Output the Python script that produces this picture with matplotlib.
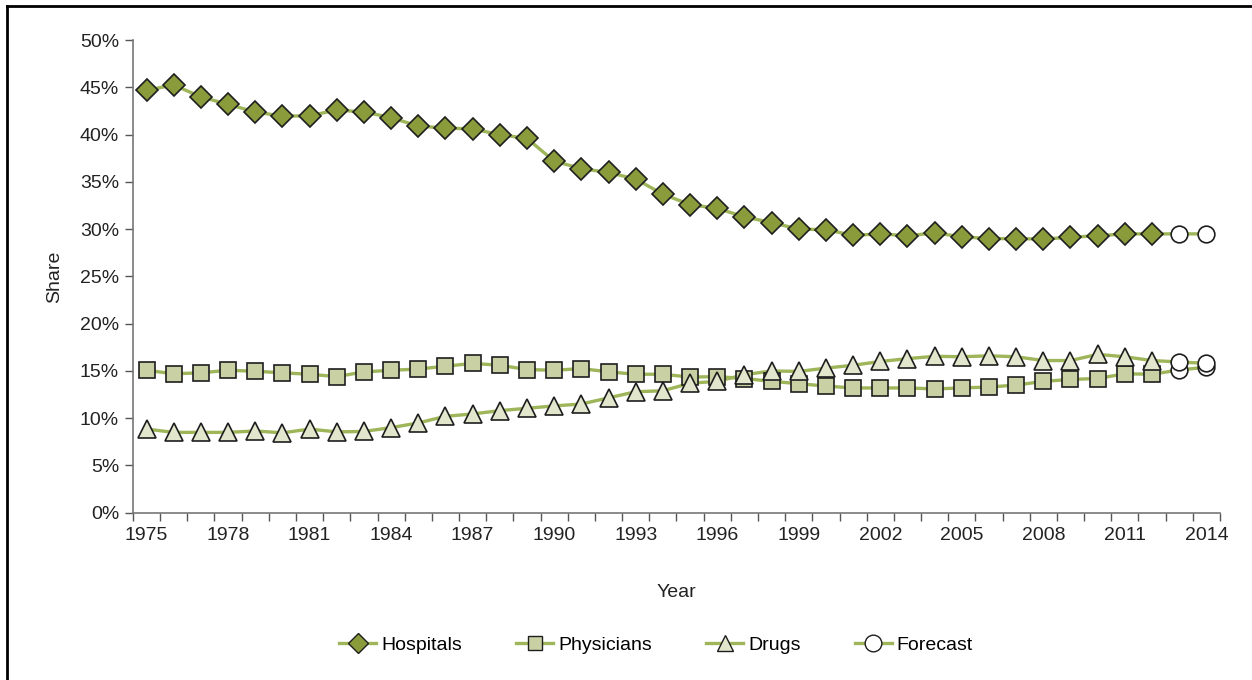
import matplotlib.pyplot as plt
from matplotlib.lines import Line2D
from matplotlib.ticker import FuncFormatter, MultipleLocator

plt.rcParams['font.family'] = ['Liberation Sans', 'DejaVu Sans']
fs = 14

# Data (share of spending, %)
years = list(range(1975, 2015))
hospitals = [44.7, 45.25, 44.0, 43.2, 42.4, 41.95, 42.0, 42.6, 42.4, 41.8,
             40.9, 40.7, 40.6, 40.0, 39.6, 37.2, 36.4, 36.0, 35.3, 33.7,
             32.6, 32.2, 31.3, 30.7, 30.0, 29.95, 29.35, 29.5, 29.3, 29.6,
             29.2, 29.0, 29.0, 28.95, 29.15, 29.3, 29.5, 29.5, 29.5, 29.5]
physicians = [15.07, 14.7, 14.8, 15.07, 14.97, 14.8, 14.65, 14.4, 14.9, 15.07,
              15.2, 15.5, 15.8, 15.6, 15.15, 15.07, 15.25, 14.9, 14.65, 14.65,
              14.35, 14.4, 14.2, 13.9, 13.65, 13.4, 13.2, 13.2, 13.2, 13.1,
              13.2, 13.3, 13.5, 13.9, 14.1, 14.2, 14.7, 14.65, 15.1, 15.4]
drugs = [8.85, 8.5, 8.5, 8.5, 8.65, 8.45, 8.85, 8.55, 8.6, 9.0,
         9.5, 10.2, 10.45, 10.8, 11.05, 11.3, 11.5, 12.15, 12.8, 12.9,
         13.7, 13.9, 14.6, 15.0, 14.95, 15.3, 15.6, 16.0, 16.3, 16.55,
         16.5, 16.6, 16.5, 16.1, 16.1, 16.75, 16.5, 16.1, 15.95, 15.8]
n_forecast = 2  # last two years are forecasts

line_color = '#9EB55A'
edge = '#1E1E1E'

fig = plt.figure(figsize=(12.52, 6.8), dpi=100)
ax = fig.add_axes([0.1062, 0.246, 0.8682, 0.695])

n_act = len(years) - n_forecast
series = [
    (hospitals, 'D', '#8A9B3C', 11, 'Hospitals'),
    (physicians, 's', '#C9D0A3', 11, 'Physicians'),
    (drugs, '^', '#E2E6CC', 13, 'Drugs'),
]
for vals, mk, fc, ms, name in series:
    v = [x / 100 for x in vals]
    ax.plot(years, v, color=line_color, lw=2.4, zorder=2)
    ax.plot(years[:n_act], v[:n_act], ls='none', marker=mk, ms=ms,
            mfc=fc, mec=edge, mew=1.2, zorder=3)
    ax.plot(years[n_act:], v[n_act:], ls='none', marker='o', ms=12,
            mfc='white', mec=edge, mew=1.2, zorder=3)

ax.set_xlim(1974.5, 2014.5)
ax.set_ylim(0, 0.5)
ax.yaxis.set_major_locator(MultipleLocator(0.05))
ax.yaxis.set_major_formatter(FuncFormatter(lambda y, _: f'{y * 100:.0f}%'))
ax.set_xticks(years[::3])
ax.set_xticks([y - 0.5 for y in years] + [2014.5], minor=True)
ax.tick_params(axis='x', which='major', length=0, pad=10, labelsize=fs, colors='#222222')
ax.tick_params(axis='x', which='minor', length=6, width=1, color='#555555')
ax.tick_params(axis='y', length=6, width=1, color='#555555', labelsize=fs,
               labelcolor='#222222', pad=4)
for s in ['top', 'right']:
    ax.spines[s].set_visible(False)
for s in ['left', 'bottom']:
    ax.spines[s].set_color('#777777')
    ax.spines[s].set_linewidth(1.2)

ax.set_xlabel('Year', fontsize=fs, labelpad=29, color='#222222')
ax.set_ylabel('Share', fontsize=fs, labelpad=12, color='#222222')

handles = [
    Line2D([], [], color=line_color, lw=2.4, marker='D', ms=10, mfc='#8A9B3C', mec=edge),
    Line2D([], [], color=line_color, lw=2.4, marker='s', ms=10, mfc='#C9D0A3', mec=edge),
    Line2D([], [], color=line_color, lw=2.4, marker='^', ms=12, mfc='#E2E6CC', mec=edge),
    Line2D([], [], color=line_color, lw=2.4, marker='o', ms=12, mfc='white', mec=edge),
]
fig.legend(handles, ['Hospitals', 'Physicians', 'Drugs', 'Forecast'],
           loc='center', bbox_to_anchor=(656 / 1252, 1 - 645 / 680), ncol=4,
           frameon=False, fontsize=fs, handlelength=1.9, handletextpad=0.25,
           columnspacing=2.8)

# outer frame (top and left edges)
fig.add_artist(Line2D([7 / 1252, 1], [1 - 6 / 680, 1 - 6 / 680], color='black', lw=2,
                      transform=fig.transFigure))
fig.add_artist(Line2D([7 / 1252, 7 / 1252], [0, 1 - 6 / 680], color='black', lw=2,
                      transform=fig.transFigure))

fig.savefig('out.png', dpi=100)
